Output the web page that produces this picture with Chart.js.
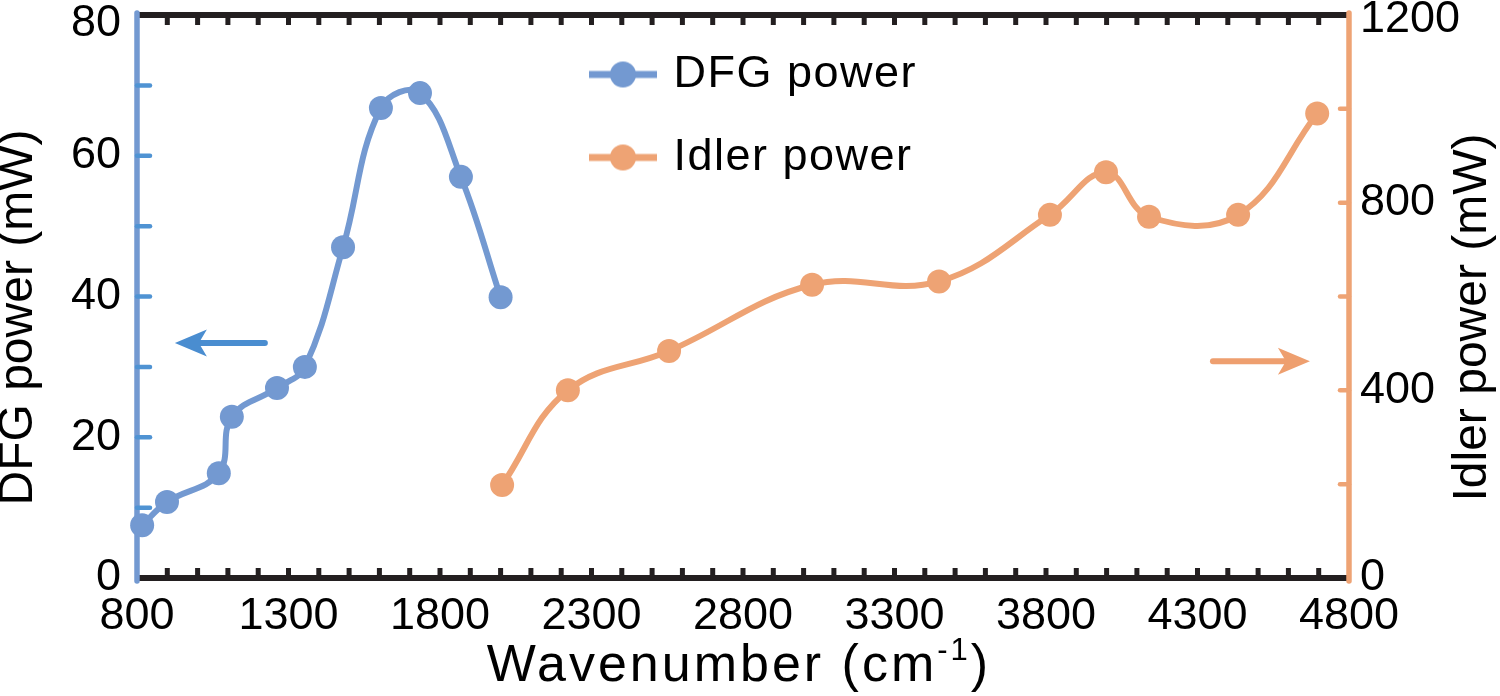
<!DOCTYPE html>
<html><head><meta charset="utf-8">
<script src="https://cdn.jsdelivr.net/npm/chart.js@4/dist/chart.umd.min.js"></script>
<style>html,body{margin:0;padding:0;background:#fff;}#wrap{width:1500px;height:696px;}</style>
</head><body><div id="wrap"><canvas id="c" width="1500" height="696"></canvas></div>
<script>
// ---- data ----
const dfgWavenumber = [817, 899, 1070, 1113, 1262, 1354, 1480, 1605, 1734, 1869, 2000];
const dfgPower = [7.5, 10.8, 14.9, 22.9, 27.0, 30.0, 47.0, 66.8, 68.9, 57.0, 39.9];
const idlerWavenumber = [2005, 2222, 2556, 3028, 3447, 3813, 3998, 4140, 4434, 4695];
const idlerPower = [198, 400, 484, 625, 632, 774, 865, 770, 774, 990];
const seriesNames = ['DFG power', 'Idler power'];
const xTickLabels = [800, 1300, 1800, 2300, 2800, 3300, 3800, 4300, 4800];
const leftTickLabels = [0, 20, 40, 60, 80];
const rightTickLabels = [0, 400, 800, 1200];
// x title pieces: main text, superscript, closing
const xTitleParts = ['Wavenumber (cm', '-1', ')'];
const yTitles = ['DFG power (mW)', 'Idler power (mW)'];
// arrows: [tail x, tip x], y value
const dfgArrowX = [1222, 925], dfgArrowY = 33.4;
const idlerArrowX = [4351, 4671], idlerArrowY = 462;

// ---- styles ----
const BLUE = '#7399D1', ORANGE = '#EEA374', BLACK = '#231F20';
const BLUE_TICK = '#4F93D3', BLUE_ARROW = '#4A8DD0', ORANGE_ARROW = '#EE9F6F';
const FONT = "'Liberation Sans', Arial, sans-serif";

function legendSymbol(color) {
  const c = document.createElement('canvas');
  c.width = 68; c.height = 28;
  const g = c.getContext('2d');
  g.strokeStyle = color; g.lineWidth = 7;
  g.beginPath(); g.moveTo(0, 14); g.lineTo(68, 14); g.stroke();
  g.fillStyle = color; g.beginPath(); g.arc(34, 14, 13, 0, Math.PI * 2); g.fill();
  return c;
}
const legendSymbols = [legendSymbol(BLUE), legendSymbol(ORANGE)];

function seg(ctx, x1, y1, x2, y2) { ctx.beginPath(); ctx.moveTo(x1, y1); ctx.lineTo(x2, y2); ctx.stroke(); }

function arrow(ctx, xs, yPix, xScale, color) {
  const tail = xScale.getPixelForValue(xs[0]);
  const tip = xScale.getPixelForValue(xs[1]);
  const dir = Math.sign(tail - tip);
  ctx.strokeStyle = color; ctx.fillStyle = color; ctx.lineWidth = 6; ctx.lineCap = 'round';
  seg(ctx, tail, yPix, tip + dir * 20, yPix);
  ctx.beginPath();
  ctx.moveTo(tip, yPix);
  ctx.lineTo(tip + dir * 32, yPix - 13.5);
  ctx.lineTo(tip + dir * 24, yPix);
  ctx.lineTo(tip + dir * 32, yPix + 13.5);
  ctx.closePath(); ctx.fill();
}

const decor = {
  id: 'decor',
  afterLayout(chart) {
    const lg = chart.legend, a = chart.chartArea;
    lg.left = a.left + 420; lg.top = a.top - 1;
    lg.right = chart.width; lg.bottom = chart.height;
    lg.width = lg.right - lg.left; lg.height = lg.bottom - lg.top;
    if (!lg._spaced) {
      const orig = lg.draw;
      lg.draw = function (...args) {
        const ctx = this.ctx, prev = ctx.letterSpacing;
        ctx.letterSpacing = '1.5px';
        orig.apply(this, args);
        ctx.letterSpacing = prev;
      };
      lg._spaced = true;
    }
  },
  beforeDatasetsDraw(chart) {
    const {ctx, chartArea: a, scales: {x, y, y1}} = chart;
    ctx.save();
    ctx.strokeStyle = BLACK; ctx.lineWidth = 6; ctx.lineCap = 'butt';
    seg(ctx, a.left, a.top, a.right, a.top);
    seg(ctx, a.left, a.bottom, a.right, a.bottom);
    ctx.lineWidth = 5;
    x.ticks.forEach(t => {
      if (t.value <= x.min || t.value >= x.max) return;
      const px = x.getPixelForValue(t.value);
      seg(ctx, px, a.top, px, a.top + 10);
      seg(ctx, px, a.bottom, px, a.bottom - 10);
    });
    ctx.lineCap = 'round';
    ctx.strokeStyle = BLUE; ctx.lineWidth = 5.5;
    seg(ctx, a.left, a.top - 2, a.left, a.bottom + 3);
    ctx.strokeStyle = BLUE_TICK; ctx.lineWidth = 4.5;
    y.ticks.forEach(t => {
      if (t.value <= y.min || t.value >= y.max) return;
      const py = y.getPixelForValue(t.value);
      seg(ctx, a.left, py, a.left + 13, py);
    });
    ctx.strokeStyle = ORANGE; ctx.lineWidth = 5.5;
    seg(ctx, a.right, a.top - 2, a.right, a.bottom + 3);
    ctx.lineWidth = 4.5;
    y1.ticks.forEach(t => {
      if (t.value <= y1.min || t.value >= y1.max) return;
      const py = y1.getPixelForValue(t.value);
      seg(ctx, a.right, py, a.right - 9, py);
    });
    arrow(ctx, dfgArrowX, y.getPixelForValue(dfgArrowY), x, BLUE_ARROW);
    arrow(ctx, idlerArrowX, y1.getPixelForValue(idlerArrowY), x, ORANGE_ARROW);
    ctx.restore();
  },
  afterDraw(chart) {
    const {ctx, chartArea: a, scales: {x, y, y1}} = chart;
    const cy = (a.top + a.bottom) / 2 + 21;
    ctx.save();
    ctx.fillStyle = '#000';
    ctx.textAlign = 'center'; ctx.textBaseline = 'middle';
    ctx.font = '48px ' + FONT;
    ctx.save(); ctx.translate(y.left + 18.5, cy); ctx.rotate(-Math.PI / 2);
    ctx.fillText(yTitles[0], 0, 0); ctx.restore();
    ctx.save(); ctx.translate(y1.right - 27, cy); ctx.rotate(-Math.PI / 2);
    ctx.fillText(yTitles[1], 0, 0); ctx.restore();
    ctx.textAlign = 'left'; ctx.textBaseline = 'alphabetic';
    ctx.letterSpacing = '3px';
    const mainFont = '52px ' + FONT, supFont = '31px ' + FONT;
    ctx.font = mainFont; const w0 = ctx.measureText(xTitleParts[0]).width;
    const w2 = ctx.measureText(xTitleParts[2]).width;
    ctx.font = supFont; const w1 = ctx.measureText(xTitleParts[1]).width;
    const cx = (a.left + a.right) / 2 - 4;
    let px = cx - (w0 + w1 + w2) / 2;
    const base = a.bottom + 103;
    ctx.font = mainFont; ctx.fillText(xTitleParts[0], px, base); px += w0;
    ctx.font = supFont; ctx.fillText(xTitleParts[1], px, base - 21); px += w1;
    ctx.font = mainFont; ctx.fillText(xTitleParts[2], px, base);
    ctx.restore();
  }
};

const noPad = s => { s.paddingTop = 0; s.paddingBottom = 0; s.paddingLeft = 0; s.paddingRight = 0; };
// top labels sit slightly below their tick in the reference
const tickFont = (topValue, shiftPx) => c => ({
  size: 45, family: FONT,
  lineHeight: c.tick && c.tick.value === topValue ? (2 * shiftPx) + 'px' : 1.2
});
const labelFor = (labels, topValue) => v => labels.includes(v) ? (v === topValue ? ['', String(v)] : String(v)) : '';

new Chart(document.getElementById('c'), {
  type: 'line',
  data: {
    datasets: [
      {
        label: seriesNames[0],
        data: dfgWavenumber.map((v, i) => ({x: v, y: dfgPower[i]})),
        yAxisID: 'y',
        borderColor: BLUE, backgroundColor: BLUE,
        borderWidth: 6, tension: 0.4, fill: false, clip: false,
        pointRadius: 12, pointHoverRadius: 12, pointBorderWidth: 0,
        pointBackgroundColor: BLUE
      },
      {
        label: seriesNames[1],
        data: idlerWavenumber.map((v, i) => ({x: v, y: idlerPower[i]})),
        yAxisID: 'y1',
        borderColor: ORANGE, backgroundColor: ORANGE,
        borderWidth: 6, tension: 0.4, fill: false, clip: false,
        pointRadius: 12, pointHoverRadius: 12, pointBorderWidth: 0,
        pointBackgroundColor: ORANGE
      }
    ]
  },
  options: {
    responsive: false, animation: false, devicePixelRatio: 1,
    layout: {padding: {top: 15, left: 0, right: 0, bottom: 0}},
    events: [],
    plugins: {
      tooltip: {enabled: false},
      legend: {
        position: 'chartArea', align: 'start',
        labels: {
          usePointStyle: true, pointStyleWidth: 56, padding: 38,
          color: '#000', font: {size: 45, family: FONT},
          generateLabels: chart => chart.data.datasets.map((ds, i) => ({
            text: ds.label, pointStyle: legendSymbols[i], fillStyle: ds.borderColor,
            strokeStyle: ds.borderColor, lineWidth: 0, hidden: false, datasetIndex: i, fontColor: '#000'
          }))
        }
      }
    },
    scales: {
      x: {
        type: 'linear', position: 'bottom', min: 800, max: 4800,
        grid: {display: false, drawTicks: false}, border: {display: false},
        ticks: {
          stepSize: 100, autoSkip: false, maxRotation: 0, minRotation: 0, padding: 12,
          color: '#000', font: {size: 45, family: FONT},
          callback: v => xTickLabels.includes(v) ? String(v) : ''
        },
        afterFit: s => { s.height = 118; noPad(s); }
      },
      y: {
        type: 'linear', position: 'left', min: 0, max: 80,
        grid: {display: false, drawTicks: false}, border: {display: false},
        ticks: {
          stepSize: 10, autoSkip: false, padding: 16, color: '#000',
          font: tickFont(80, 9),
          callback: labelFor(leftTickLabels, 80)
        },
        afterFit: s => { s.width = 137; noPad(s); }
      },
      y1: {
        type: 'linear', position: 'right', min: 0, max: 1200,
        grid: {display: false, drawTicks: false}, border: {display: false},
        ticks: {
          stepSize: 200, autoSkip: false, padding: 11, color: '#000',
          font: tickFont(1200, 5),
          callback: labelFor(rightTickLabels, 1200)
        },
        afterFit: s => { s.width = 151; noPad(s); }
      }
    }
  },
  plugins: [decor]
});
</script></body></html>
